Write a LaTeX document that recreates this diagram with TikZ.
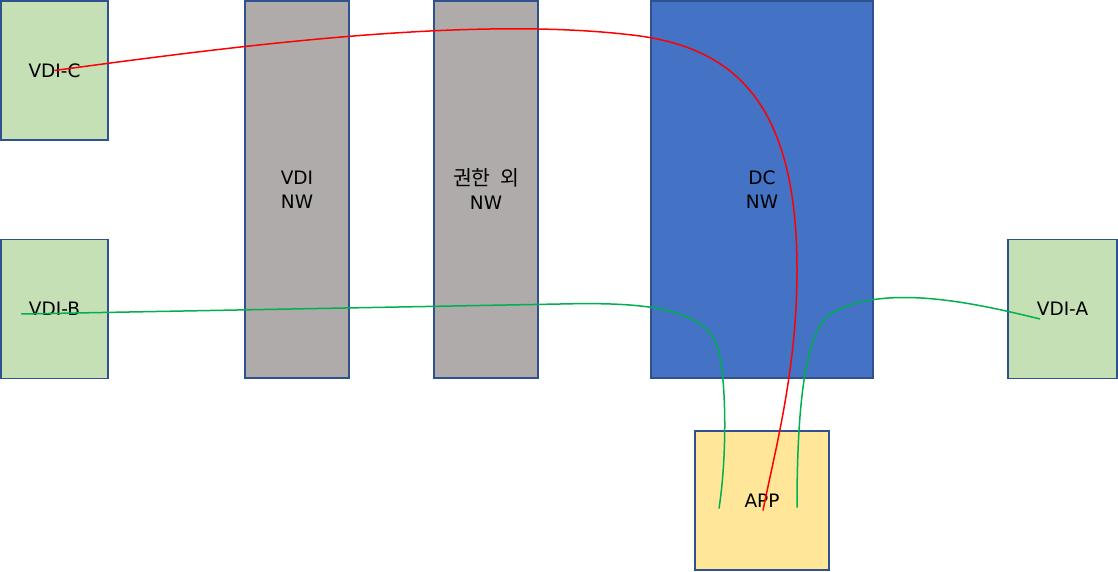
\documentclass[tikz,border=0pt]{standalone}
\usepackage{fontspec}
\setmainfont{DejaVu Sans}
\newfontfamily\cjk{Noto Sans CJK KR}
\usepackage{tikz}
\definecolor{boxline}{HTML}{2F528F}
\definecolor{vdigreen}{HTML}{C5E0B4}
\definecolor{nwgray}{HTML}{AFABAB}
\definecolor{dcblue}{HTML}{4472C4}
\definecolor{appyellow}{HTML}{FFE699}
\definecolor{linkgreen}{HTML}{00B050}
\tikzset{
  box/.style={draw=boxline, line width=1.5pt, inner sep=0pt, align=center, font=\fontsize{18.5}{24}\selectfont},
  vdi/.style={box, fill=vdigreen, minimum width=107pt, minimum height=139pt},
  nw/.style={box, fill=nwgray, minimum width=104pt, minimum height=377pt},
  link/.style={line width=1.5pt},
}

\begin{document}
\begin{tikzpicture}[x=1pt, y=-1pt]
\useasboundingbox (0,0) rectangle (1118,571);
\node[vdi] (vdic) at (54.5,70.5) {VDI-C};
\node[vdi] (vdib) at (54.5,309) {VDI-B};
\node[vdi, minimum width=109pt] (vdia) at (1062.5,309) {VDI-A};
\node[nw] (vdinw) at (297,189.5) {VDI\\NW};
\node[nw] (authnw) at (486,189.5) {{\cjk\fontsize{20.5}{24}\selectfont 권한\hspace{0.45em}외}\\NW};
\node[nw, fill=dcblue, minimum width=222pt] (dcnw) at (762,189.5) {DC\\NW};
\node[box, fill=appyellow, minimum width=134pt, minimum height=139pt] (app) at (762,500.5) {APP};
% connector ends
\coordinate (c0) at (vdic.center);
\coordinate (b0) at ([xshift=21pt, yshift=-5pt]vdib.west);
\coordinate (a0) at ([xshift=-22.5pt, yshift=-10pt]vdia.center);
\coordinate (appc) at ([xshift=1pt, yshift=-10pt]app.center);
\coordinate (appb) at ([xshift=-43pt, yshift=-8pt]app.center);
\coordinate (appa) at ([xshift=35pt, yshift=-7pt]app.center);
% links
\draw[link, linkgreen] (b0) -- (560,304) .. controls (640,302) and (700,307) .. (716,343) .. controls (726,366) and (728,450) .. (appb);
\draw[link, linkgreen] (a0) .. controls (975,303) and (885,283) .. (832,313) .. controls (806,328) and (797,400) .. (appa);
\draw[link, red] (c0) .. controls (250,44) and (480,15) .. (640,36) .. controls (740,50) and (797,110) .. (797,270) .. controls (797,370) and (775,450) .. (appc);
\end{tikzpicture}
\end{document}
